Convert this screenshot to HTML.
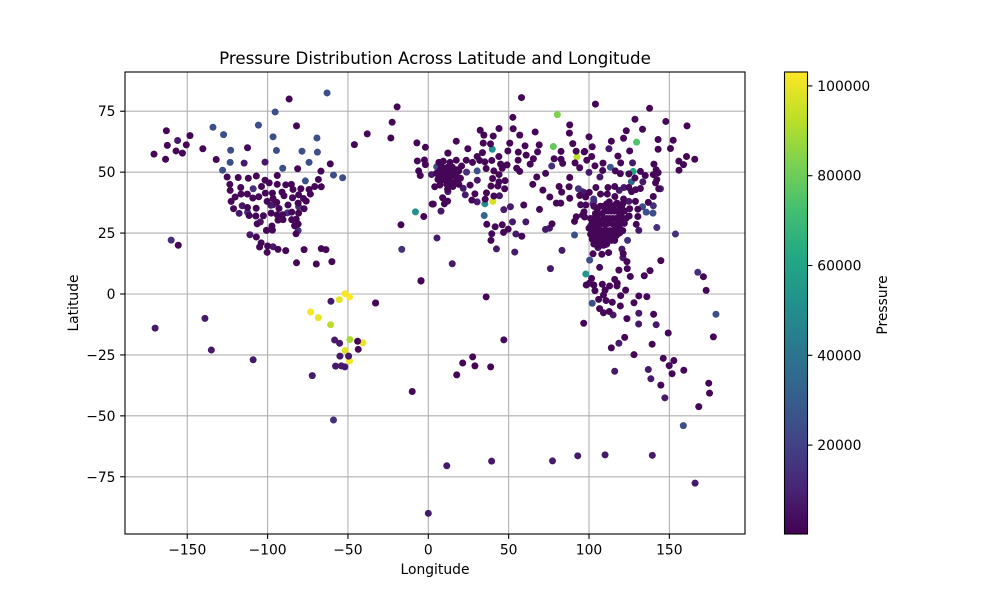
<!DOCTYPE html>
<html lang="en">
<head>
<meta charset="utf-8">
<title>Pressure Distribution Across Latitude and Longitude</title>
<style>
html,body{margin:0;padding:0;background:#fff;width:1000px;height:600px;overflow:hidden}
svg{display:block}
text{font-family:"DejaVu Sans","Liberation Sans",sans-serif;fill:#000}
</style>
</head>
<body>
<svg id="chart" xmlns="http://www.w3.org/2000/svg" width="1000" height="600" viewBox="0 0 1000 600">
<defs><linearGradient id="viridis-gradient" x1="0" y1="1" x2="0" y2="0"></linearGradient></defs>
<rect width="1000" height="600" fill="#fff"/>
<g id="grid"></g>
<g id="points"></g>
<g id="axes"></g>
<text x="435" y="64" font-size="16.67" text-anchor="middle">Pressure Distribution Across Latitude and Longitude</text>
<text x="435" y="574" font-size="13.89" text-anchor="middle">Longitude</text>
<text x="0" y="0" font-size="13.89" text-anchor="middle" transform="translate(78 303) rotate(-90)">Latitude</text>
<text x="0" y="0" font-size="13.89" text-anchor="middle" transform="translate(887 305) rotate(-90)">Pressure</text>
<rect x="784.5" y="72" width="23" height="462" fill="url(#viridis-gradient)" stroke="#000" stroke-width="1.1"/>
<g id="colorbar-axis"></g>
</svg>
<script>
const xTicks = [-150, -100, -50, 0, 50, 100, 150];
const yTicks = [-75, -50, -25, 0, 25, 50, 75];
const colorTicks = [20000, 40000, 60000, 80000, 100000];
const viridisStops = ["#440154","#482576","#414487","#35608d","#2a788e","#21918c","#22a884","#43bf71","#7ad151","#bddf26","#fde725"];

const pressureMin = 200;
const pressureMax = 103100;

const darkLons = [-86.6,-19.4,-82,-22.5,-163,-148.3,-38,-23.3,-162.4,-150.6,-46,-7.1,-1.8,-157,-153,-170.7,-163.5,-140.3,-112.5,-132,-61,-81.3,-66.8,-6.8,-2.4,-1.8,-6,-5,
-125.2,-118.3,-112,-107,-94,-101.6,-99,-123.5,-116.7,-103.8,-94,-88.7,-85.2,-84.2,-79.3,-74.2,-70.7,-66.6,-68.4,-123.3,-116.5,-112.6,-120.2,-109.2,-105.5,-101.4,-97,-91,-89.8,-84.5,-80.7,-73.4,-77.7,-76,-122.7,-100.3,-96.6,-94.3,-81,-87.3,-112.5,-107.1,-92.9,-77.3,-121.2,-97.8,-85,-80.7,-111.5,-107.3,-102.6,-94,-90.7,-93.5,-90.4,-85,-82.2,-106.5,-81,-83.2,-97.3,-100.7,-97,-82.3,-107,-155.6,-104,-105,-100,-93.5,-88.7,-77.3,-66.6,-63.7,-100.3,-82,-69.7,-60,-17,-2.8,2.4,-4.5,-32.8,
58,52.6,88,87.8,32.3,44,52.8,34.6,40.4,56.9,66.5,17.4,34.2,38.7,50.7,69,60.2,89.9,24.6,49.5,56,68,82.6,92,12.2,33.7,43.9,60.9,65.4,78.3,82.6,83.6,97,30.4,32,35.2,39.5,27.5,45,49,55.9,63.4,91.3,94.2,36,46,55,56.9,40.8,44,73,88,67.5,40,47.8,44,65,81.4,87.6,71.3,83,39,43.3,47.5,26,29,36.2,8.9,40.8,75.6,88,94.2,35.4,27.1,12,10,3.1,59.4,79.7,82.4,94.8,69.2,36.4,41.6,46,49.7,46.8,77,92.1,91,96,39.5,58.2,39,
6.6,9.3,13.5,12.2,17.4,23.6,20.7,8,10,12,15,18,7,9.5,12.5,14.8,17,19,5,8,10.5,13,15.5,18,20,6,8.5,11,14,17,19,7.2,4,11.5,13.5,15.3,12,
104,137.7,128.6,147.8,161,133.3,123.2,100,121.5,113.9,143,152.4,102,125.3,143,150.7,97.3,118,101.7,98.6,103.7,108.7,119.7,140.4,160.7,165.8,155.9,158.8,156,108.5,116.4,119.5,124.8,132,141.8,143,140,128.6,135,142.2,141.4,104.3,111.8,116,124.8,126.5,129,132,143.4,140,107.2,111.4,116.1,100.2,97.9,121.5,128.9,112.6,98,117.4,120.5,125.3,130.4,96.9,97.3,129.4,130.4,136.9,144.7,
103,105,107,109,111,113,115,117,119,121,104,106,108,110,112,114,116,118,120,122,101,103,105,107,109,111,113,115,117,119,121,123,125,102,104,106,108,110,112,114,116,118,120,122,100,103,105,107,109,111,113,115,117,119,121,101,103,105,107,109,111,113,115,117,119,102,104,106,108,110,112,114,116,103,105,107,109,111,
102.5,108,112.2,110,121.3,123.6,101.6,100.2,98.3,103,103.7,108.3,110,112.8,116,117.6,117.4,122.8,125.7,134.4,109,119.7,131,136,106,110.6,114.5,119.5,128,106.6,109,112.6,140.2,123.6,96.7,149.3,177.4,122.2,139.3,113.9,128,146.2,152.8,149.9,151.7,159,144.7,106.6,118.6,123.8,138,171.2,172.9,174.5,175,168.3,
21.4,17.7,27.6,29,38.8,47,36,-10,-4.6,-44,-43.6,-32.8];
const darkLats = [80,76.8,69,70.5,67,65,65.7,64,61,61.2,61.3,62,60.2,58.7,57.8,57.4,55.3,59.6,60,55.2,53.4,51.4,50.4,54.6,55,53.1,50.5,48.6,
48,47.8,47.5,48.4,48.6,46.7,45.6,45,43.7,44.1,45,44.8,45,42.9,43.2,42.9,44.1,44,47,42.5,41,41,39.8,39.4,39.9,41.4,41.4,41.8,40.3,39.5,40.7,41,39.2,38.1,38,38,39.2,37.6,37.3,36.5,35.5,35.2,35.1,35,35,33.2,33.6,33.2,32.2,32,32.1,32.5,32.5,30.3,30.5,30.5,30.7,28.8,28.7,28,27.9,26.1,26.2,24.7,23.4,20,21,19.3,19.7,18.3,17.8,18.2,18.6,18.2,17.1,12.8,12.3,13.3,28.4,31.8,36.9,5.5,-3.7,
80.6,72.5,69.4,66,67.2,67.9,67.8,65.2,64.8,65.2,66.5,62.7,61.9,61.6,61.9,61.2,60.8,61.7,59.6,58.7,58.2,58.3,58.5,58.6,57.8,58,56.4,57,55.5,55.5,55.3,53.6,58.3,56.4,54.8,54.2,54.8,54,53.3,53,54.9,53.3,53.8,51.8,51.5,51.6,51.6,50.3,50.5,49,49.5,47.8,48,47.4,46.5,46,45,44.1,44,42.6,41.8,44.3,44.3,43.2,44.7,41.1,41.5,39.5,40.2,39.8,39.3,40.4,38.9,38.5,38.1,37,36.9,36.5,37.3,37.3,36.6,34.7,28.6,27.6,28.4,26.6,25.3,28.8,31.7,29.8,32.4,24.7,23.7,22,
54,54.5,54,57.8,54.9,54.9,52.5,52.5,51.5,52,52,51,50.5,50,50,50.6,50,50.5,49.5,48.5,48.8,47.8,48.6,48,47.5,47,46.8,46.5,46,46,45,44.7,44,45,45,44.1,43,
77.9,76.2,71.7,70.8,69,67.6,67,64.5,63.9,62.7,63.4,63.1,60.4,58.7,59.4,59.7,58.5,56.6,56.4,54.9,52.6,53.7,53.8,53.3,56.4,55.3,54.5,53.1,50.8,50.7,50.5,49.4,49.3,50.3,51,49.8,49,47.6,48.6,47,45.6,43.7,43.7,44.1,43.7,42,42.8,43.3,43.2,40,41,41,40,41.7,39.8,39,38,37.8,36.5,37.3,35.1,35,34.8,33.7,31.6,28.6,31.8,37.6,13.7,
36,35,36,36,37,36,36,37,36,37,33,33,33,34,34,34,34,34,33,34,31,31,31,30,31,31,31,31,31,32,31,31,32,29,29,28,29,28.5,29,29,28,29,29,29,27,26.5,26.5,26,26,26,26,26,26,27,26,24.5,24,24,24,24.5,24,24,24,24,25,22.5,22,22,22,22,22.5,22,22,20.5,20,20,20,20.5,
16.5,16.3,17,20.2,16.6,13.3,6.4,4.4,3.7,3.7,1.4,4,1.6,3.3,6,4.4,3.3,1.6,7.2,7.5,-0.4,-0.7,-0.8,-1.1,-2.2,-2.7,-3.4,-4.9,-3.6,-6,-7.7,-7.2,-8.3,-10.1,-12,-16,-17.6,-17.8,-20.6,-22.1,-24.9,-26.4,-27.3,-29.4,-32.7,-31.3,-37.4,10.9,9.8,10.4,9.6,7.1,1.5,-36.6,-40.7,-46.2,
-28.3,-33.2,-25.8,-29.5,-29.9,-18.8,-1.2,-40,5.3,-19.4,-22.7,-3.7];
const darkPressure = 1500;

const purpleLons = [-156,-96.6,-114.6,-101.6,-98,-115.8,-117.7,-100.7,-111,-96.6,-104.5,
2,30.5,44.3,12.2,21.7,23,30.4,51.1,47,7.9,60.7,52.4,72.9,75.4,5.4,42.4,53.8,83.2,14.9,76,54.5,
112.4,127.1,100,106.8,133.5,121.7,118.8,96.7,124.8,130.9,141.8,116,136.9,138.5,147.2,118.6,115,131,105.6,120.5,121.1,131,
-170,-139,-135,-109,-60.6,-58.3,-55.2,-55,-49.6,-57.7,-54.1,-51.9,-72.2,11.5,39.4,77.3,93,110,139.4,0,166];
const purpleLats = [63,36.6,53.7,54.1,36.4,36.2,33.1,26.1,24.3,19.4,29.6,
49,46.7,40.3,42,43.4,40.7,37.8,35.8,34.6,34,29.6,29.6,26.5,27,23,18.5,17.2,17.9,12.4,10.4,24.6,
59.6,53.8,49.9,48,46,43.7,42.5,41.7,38,-12.3,-12.6,-31.7,-31,-34.8,-42.6,-20.2,-8.6,-7.9,19,18.4,14.9,26.1,
-14,-10,-23,-27,-3,-18.9,-20.2,-25.5,-25.5,-29.6,-29.5,-29.9,-33.5,-70.5,-68.6,-68.5,-66.4,-66,-66.2,-90,-77.6];
const purplePressure = 7000;

const indigoLons = [-160,-109,-112.5,-80.7,-87.7,-81,-16.5,23.8,76.8,93.4,95.7,102.9,102.5,140,144.5,142.2,153.8,167.7,-59,103,105,107,101,124];
const indigoLats = [22.1,43.2,33.5,35.8,33.3,26,18.3,50,52.5,43.2,42,39,37,36.2,43.2,27.3,24.6,8.9,-51.7,38,33,24,28,22];
const indigoPressure = 14000;

const blueLons = [-63,-95.3,-134,-105.7,-127.4,-96.6,-69.3,-123,-94.5,-78.6,-69,-123.3,-74.2,-90.6,-128,-59,-53.3,-76.5,5.2,30.4,91,133.3,135.6,139.8,100.4,102,179,158.7];
const blueLats = [82.5,74.7,68.4,69.3,65.4,64.5,64,59,58.9,58.6,58.2,54,54,51.6,50.8,48.8,47.7,46.4,52.2,50.5,24.2,35.8,33.6,33.2,13.9,-3.8,-8.3,-54];
const bluePressure = 25000;

const highLons = [113.3,126.3,34.8,-8,39.8,35.2,98,127.5,77.8,129.6,80.3,92.5,40.2,-48.8,-60.8,-40.7,-55.4,-68.4,-51.7,-73.2,-49,-49,-51.7];
const highLats = [52,46,32.2,33.7,59.4,37,8.2,50.3,60.5,62.3,73.6,56.3,38,-18.7,-12.6,-20,-2.3,-9.7,-23.2,-7.4,-1.2,-27.5,0.1];
const highPressures = [28000,33000,33000,52000,50000,50000,55000,60000,78000,75000,83000,93000,97000,90000,92000,100000,99000,100000,98000,102000,103000,102000,102000];

const NS = "http://www.w3.org/2000/svg";
const plotLeft = 125, plotRight = 745, plotTop = 72, plotBottom = 534;
function xScale(lon) { return 428.3 + lon * 1.607; }
function yScale(lat) { return 294 - lat * 2.437; }
function cbScale(p) { return 534 - (p - pressureMin) / (pressureMax - pressureMin) * 462; }
function hexToRgb(h) { return [1, 3, 5].map(function (i) { return parseInt(h.substr(i, 2), 16); }); }
function viridis(p) {
  const t = Math.max(0, Math.min(1, (p - pressureMin) / (pressureMax - pressureMin))) * (viridisStops.length - 1);
  const i = Math.min(Math.floor(t), viridisStops.length - 2);
  const a = hexToRgb(viridisStops[i]), b = hexToRgb(viridisStops[i + 1]), f = t - i;
  return "rgb(" + a.map(function (v, k) { return Math.round(v + (b[k] - v) * f); }).join(",") + ")";
}
function fmt(v) { return String(v).replace("-", "\u2212"); }

const gridG = document.getElementById("grid");
const pointsG = document.getElementById("points");
const axesG = document.getElementById("axes");
const cbG = document.getElementById("colorbar-axis");
const grad = document.getElementById("viridis-gradient");

viridisStops.forEach(function (c, i) {
  const s = document.createElementNS(NS, "stop");
  s.setAttribute("offset", i / (viridisStops.length - 1));
  s.setAttribute("stop-color", c);
  grad.appendChild(s);
});

function line(parent, x1, y1, x2, y2, stroke, name) {
  const l = document.createElementNS(NS, "line");
  l.setAttribute("x1", x1); l.setAttribute("y1", y1);
  l.setAttribute("x2", x2); l.setAttribute("y2", y2);
  l.setAttribute("stroke", stroke);
  l.setAttribute("stroke-width", "1.1");
  
  
  parent.appendChild(l);
}
function label(parent, x, y, str, anchor, name) {
  const t = document.createElementNS(NS, "text");
  t.setAttribute("x", x); t.setAttribute("y", y);
  t.setAttribute("font-size", "13.89");
  t.setAttribute("text-anchor", anchor);
  
  
  t.textContent = str;
  parent.appendChild(t);
}

xTicks.forEach(function (v) {
  const x = xScale(v);
  line(gridG, x, plotTop, x, plotBottom, "#b0b0b0", "x-grid-line");
  line(axesG, x, plotBottom, x, plotBottom + 4.9, "#000", "x-tick");
  label(axesG, x, 554.5, fmt(v), "middle", "x-tick-label");
});
yTicks.forEach(function (v) {
  const y = yScale(v);
  line(gridG, plotLeft, y, plotRight, y, "#b0b0b0", "y-grid-line");
  line(axesG, plotLeft - 4.9, y, plotLeft, y, "#000", "y-tick");
  label(axesG, 115.5, y + 5, fmt(v), "end", "y-tick-label");
});

function drawPoint(lon, lat, p) {
  const c = document.createElementNS(NS, "circle");
  c.setAttribute("cx", xScale(lon));
  c.setAttribute("cy", yScale(lat));
  c.setAttribute("r", "3.5");
  c.setAttribute("fill", viridis(p));
  
  
  pointsG.appendChild(c);
}
blueLons.forEach(function (v, i) { drawPoint(v, blueLats[i], bluePressure); });
indigoLons.forEach(function (v, i) { drawPoint(v, indigoLats[i], indigoPressure); });
highLons.forEach(function (v, i) { drawPoint(v, highLats[i], highPressures[i]); });
purpleLons.forEach(function (v, i) { drawPoint(v, purpleLats[i], purplePressure); });
darkLons.forEach(function (v, i) { drawPoint(v, darkLats[i], darkPressure); });

const frame = document.createElementNS(NS, "rect");
frame.setAttribute("x", plotLeft);
frame.setAttribute("y", plotTop);
frame.setAttribute("width", plotRight - plotLeft);
frame.setAttribute("height", plotBottom - plotTop);
frame.setAttribute("fill", "none");
frame.setAttribute("stroke", "#000");
frame.setAttribute("stroke-width", "1.1");


axesG.appendChild(frame);

colorTicks.forEach(function (v) {
  const y = cbScale(v);
  line(cbG, 807.5, y, 812.4, y, "#000", "colorbar-tick");
  label(cbG, 817.3, y + 5, String(v), "start", "colorbar-tick-label");
});
</script>
</body>
</html>
